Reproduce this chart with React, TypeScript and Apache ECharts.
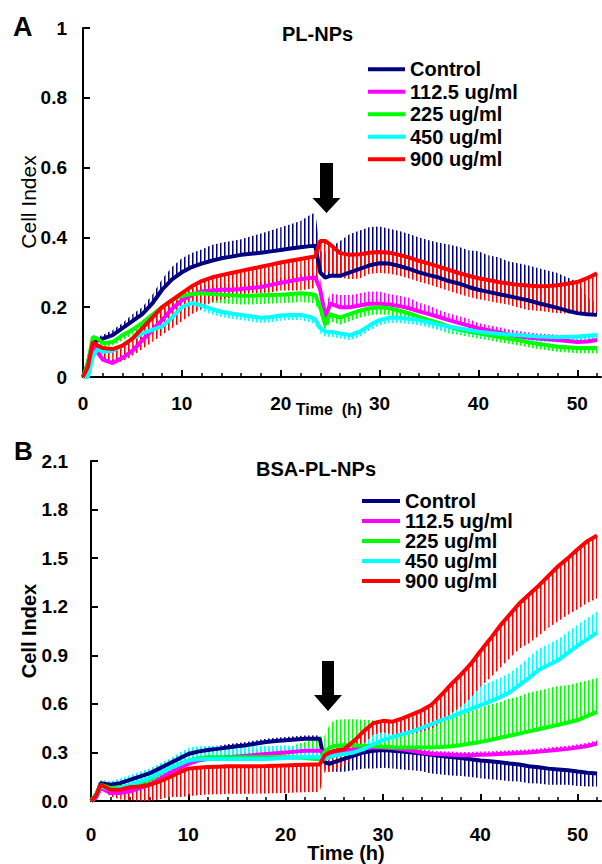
import React, { useEffect, useRef } from "react";
import * as echarts from "echarts";

// ---------- data ----------
const T = [0, 0.5, 1, 1.5, 2,
  3, 4, 5, 6, 7, 8, 9, 10, 11, 12,
  13, 14, 15, 16, 17, 18, 19, 20, 21, 22,
  23, 23.5, 24, 24.5, 25,
  26, 27, 28, 29, 30, 31, 32, 33, 34, 35,
  36, 37, 38, 39, 40, 41, 42, 43, 44, 45,
  46, 47, 48, 49, 50, 51, 52];

const NAMES = ["Control", "112.5 ug/ml", "225 ug/ml", "450 ug/ml", "900 ug/ml"];
const X_MAJOR = [0, 10, 20, 30, 40, 50];
const X_MINOR = [2, 4, 6, 8, 12, 14, 16, 18, 22, 24, 26, 28, 32, 34, 36, 38, 42, 44, 46, 48, 52];

// Panel A (PL-NPs)
const ctrlA = [0, 0.04, 0.1, 0.105, 0.11,
  0.12, 0.14, 0.16, 0.18, 0.21, 0.25, 0.28, 0.30, 0.315, 0.325,
  0.333, 0.34, 0.345, 0.35, 0.353, 0.356, 0.36, 0.364, 0.368, 0.372,
  0.375, 0.376, 0.3, 0.285, 0.29,
  0.29, 0.3, 0.31, 0.32, 0.326, 0.325, 0.318, 0.31, 0.3, 0.292,
  0.285, 0.275, 0.268, 0.258, 0.25, 0.244, 0.238, 0.232, 0.226, 0.22,
  0.212, 0.205, 0.198, 0.19, 0.183, 0.18, 0.178];
const ctrlAErr = [0, 0, 0.01, 0.01, 0.01,
  0.015, 0.015, 0.02, 0.02, 0.025, 0.03, 0.035, 0.04, 0.04, 0.04,
  0.045, 0.045, 0.045, 0.045, 0.05, 0.055, 0.06, 0.065, 0.07, 0.075,
  0.09, 0.095, 0.06, 0.07, 0.08,
  0.1, 0.11, 0.11, 0.11, 0.105, 0.1, 0.1, 0.1, 0.1, 0.1,
  0.1, 0.105, 0.105, 0.105, 0.11, 0.105, 0.105, 0.1, 0.1, 0.1,
  0.1, 0.1, 0.1, 0.095, 0.09, 0.05, 0.03];

const magA = [0, 0.03, 0.09, 0.07, 0.05,
  0.04, 0.055, 0.075, 0.105, 0.135, 0.163, 0.195, 0.22, 0.235, 0.245,
  0.248, 0.25, 0.25, 0.252, 0.255, 0.258, 0.264, 0.27, 0.275, 0.28,
  0.284, 0.285, 0.25, 0.17, 0.21,
  0.2, 0.2, 0.205, 0.21, 0.21, 0.208, 0.203, 0.197, 0.188, 0.18,
  0.172, 0.163, 0.155, 0.147, 0.14, 0.134, 0.128, 0.122, 0.117, 0.113,
  0.11, 0.108, 0.106, 0.103, 0.1, 0.102, 0.106];
const magAErr = [0, 0, 0.01, 0.01, 0.01,
  0.01, 0.01, 0.015, 0.015, 0.015, 0.015, 0.015, 0.015, 0.015, 0.015,
  0.015, 0.015, 0.015, 0.015, 0.015, 0.015, 0.015, 0.015, 0.015, 0.015,
  0.015, 0.015, 0.03, 0.03, 0.03,
  0.035, 0.035, 0.035, 0.035, 0.035, 0.03, 0.03, 0.03, 0.025, 0.025,
  0.02, 0.02, 0.02, 0.02, 0.015, 0.015, 0.015, 0.015, 0.015, 0.015,
  0.015, 0.015, 0.015, 0.015, 0.015, 0.015, 0.015];

const grnA = [0, 0.04, 0.115, 0.11, 0.097,
  0.1, 0.12, 0.135, 0.155, 0.178, 0.2, 0.22, 0.233, 0.238, 0.24,
  0.238, 0.236, 0.234, 0.233, 0.233, 0.234, 0.235, 0.236, 0.238, 0.24,
  0.238, 0.235, 0.2, 0.15, 0.18,
  0.17, 0.18, 0.19, 0.197, 0.2, 0.197, 0.19, 0.182, 0.172, 0.163,
  0.155, 0.145, 0.136, 0.13, 0.125, 0.12, 0.115, 0.11, 0.106, 0.1,
  0.095, 0.091, 0.087, 0.085, 0.083, 0.083, 0.083];
const grnAErr = [0, 0, -0.01, -0.01, -0.01,
  -0.01, -0.015, -0.015, -0.02, -0.02, -0.02, -0.02, -0.025, -0.025, -0.025,
  -0.025, -0.025, -0.025, -0.025, -0.025, -0.025, -0.025, -0.025, -0.025, -0.025,
  -0.025, -0.025, -0.02, -0.02, -0.02,
  -0.02, -0.02, -0.02, -0.02, -0.02, -0.02, -0.02, -0.02, -0.02, -0.02,
  -0.02, -0.02, -0.015, -0.015, -0.015, -0.015, -0.015, -0.015, -0.015, -0.015,
  -0.015, -0.015, -0.015, -0.015, -0.015, -0.015, -0.015];

const cyaA = [0, 0, 0.06, 0.08, 0.072,
  0.075, 0.09, 0.11, 0.125, 0.135, 0.145, 0.17, 0.2, 0.212, 0.205,
  0.195, 0.187, 0.182, 0.178, 0.174, 0.17, 0.172, 0.176, 0.178, 0.178,
  0.172, 0.165, 0.14, 0.13, 0.13,
  0.125, 0.12, 0.13, 0.148, 0.163, 0.17, 0.17, 0.167, 0.163, 0.157,
  0.15, 0.145, 0.14, 0.135, 0.13, 0.127, 0.124, 0.122, 0.12, 0.118,
  0.116, 0.115, 0.114, 0.115, 0.116, 0.118, 0.12];
const cyaAErr = [0, 0, -0.01, -0.01, -0.01,
  -0.015, -0.015, -0.015, -0.015, -0.015, -0.015, -0.015, -0.015, -0.015, -0.015,
  -0.015, -0.015, -0.015, -0.015, -0.015, -0.015, -0.015, -0.015, -0.015, -0.015,
  -0.015, -0.015, -0.015, -0.015, -0.015,
  -0.015, -0.015, -0.015, -0.015, -0.015, -0.015, -0.015, -0.015, -0.015, -0.015,
  -0.015, -0.015, -0.015, -0.015, -0.015, -0.015, -0.015, -0.015, -0.015, -0.015,
  -0.015, -0.015, -0.015, -0.015, -0.015, -0.015, -0.015];

const redA = [0, 0.03, 0.1, 0.09, 0.083,
  0.08, 0.09, 0.11, 0.14, 0.17, 0.2, 0.22, 0.24, 0.26, 0.275,
  0.285, 0.292, 0.298, 0.304, 0.31, 0.316, 0.322, 0.328, 0.333, 0.338,
  0.343, 0.345, 0.39, 0.39, 0.38,
  0.355, 0.35, 0.352, 0.356, 0.358, 0.356, 0.35, 0.342, 0.333, 0.325,
  0.316, 0.307, 0.298, 0.29, 0.283, 0.278, 0.272, 0.268, 0.264, 0.262,
  0.26, 0.261, 0.263, 0.267, 0.272, 0.283, 0.297];
const redAErr = [0, 0, -0.01, -0.02, -0.03,
  -0.04, -0.045, -0.05, -0.06, -0.07, -0.08, -0.08, -0.08, -0.08, -0.08,
  -0.07, -0.07, -0.07, -0.07, -0.07, -0.075, -0.08, -0.08, -0.085, -0.09,
  -0.09, -0.09, -0.1, -0.09, -0.08,
  -0.07, -0.07, -0.07, -0.06, -0.06, -0.06, -0.06, -0.06, -0.06, -0.06,
  -0.06, -0.06, -0.06, -0.06, -0.06, -0.06, -0.06, -0.06, -0.065, -0.07,
  -0.07, -0.075, -0.08, -0.085, -0.09, -0.1, -0.11];

// Panel B (BSA-PL-NPs)
const ctrlB = [0, 0.03, 0.11, 0.105, 0.1,
  0.11, 0.13, 0.15, 0.17, 0.2, 0.23, 0.26, 0.29, 0.305, 0.315,
  0.322, 0.33, 0.338, 0.345, 0.355, 0.365, 0.37, 0.375, 0.38, 0.385,
  0.385, 0.385, 0.24, 0.23, 0.24,
  0.26, 0.28, 0.3, 0.31, 0.315, 0.31, 0.305, 0.3, 0.293, 0.285,
  0.278, 0.272, 0.265, 0.258, 0.25, 0.245, 0.24, 0.232, 0.225, 0.215,
  0.208, 0.2, 0.195, 0.19, 0.182, 0.175, 0.17];
const ctrlBErr = [0, 0, 0.01, 0.01, 0.01,
  0.015, 0.015, 0.02, 0.02, 0.02, 0.02, 0.02, 0.02, 0.02, 0.02,
  0.02, 0.02, 0.02, 0.02, 0.02, 0.02, 0.02, 0.02, 0.02, 0.02,
  0.02, 0.02, -0.05, -0.05, -0.06,
  -0.08, -0.09, -0.1, -0.11, -0.11, -0.11, -0.11, -0.11, -0.11, -0.115,
  -0.115, -0.115, -0.11, -0.11, -0.11, -0.11, -0.11, -0.11, -0.105, -0.105,
  -0.1, -0.1, -0.095, -0.09, -0.09, -0.085, -0.08];

const magB = [0, 0.02, 0.08, 0.065, 0.05,
  0.05, 0.06, 0.08, 0.1, 0.135, 0.17, 0.2, 0.23, 0.25, 0.26,
  0.265, 0.27, 0.275, 0.28, 0.285, 0.29, 0.295, 0.3, 0.305, 0.31,
  0.31, 0.31, 0.3, 0.29, 0.3,
  0.31, 0.32, 0.325, 0.33, 0.33, 0.325, 0.32, 0.31, 0.3, 0.292,
  0.288, 0.285, 0.283, 0.283, 0.285, 0.287, 0.29, 0.293, 0.296, 0.3,
  0.305, 0.31, 0.316, 0.322, 0.33, 0.34, 0.355];
const magBErr = [0, 0, 0.01, 0.01, 0.01,
  0.02, 0.02, 0.02, 0.02, 0.02, 0.02, 0.02, 0.02, 0.02, 0.02,
  0.02, 0.02, 0.02, 0.02, 0.02, 0.02, 0.02, 0.02, 0.02, 0.02,
  0.02, 0.02, 0.02, 0.02, 0.02,
  0.02, 0.02, 0.02, 0.02, 0.02, 0.02, 0.02, 0.02, 0.02, 0.02,
  0.02, 0.02, 0.02, 0.02, 0.02, 0.02, 0.02, 0.02, 0.02, 0.02,
  0.02, 0.02, 0.02, 0.02, 0.02, 0.02, 0.02];

const grnB = [0, 0.04, 0.1, 0.09, 0.08,
  0.085, 0.09, 0.11, 0.13, 0.165, 0.2, 0.225, 0.25, 0.262, 0.27,
  0.27, 0.27, 0.27, 0.27, 0.27, 0.27, 0.27, 0.27, 0.268, 0.265,
  0.26, 0.26, 0.3, 0.33, 0.34,
  0.345, 0.345, 0.342, 0.338, 0.335, 0.332, 0.33, 0.33, 0.33, 0.33,
  0.333, 0.338, 0.345, 0.355, 0.365, 0.377, 0.39, 0.403, 0.416, 0.43,
  0.443, 0.457, 0.47, 0.485, 0.5, 0.525, 0.55];
const grnBErr = [0, 0, 0.03, 0.035, 0.04,
  0.05, 0.05, 0.05, 0.05, 0.05, 0.05, 0.05, 0.05, 0.05, 0.05,
  0.05, 0.05, 0.05, 0.05, 0.05, 0.05, 0.05, 0.05, 0.08, 0.1,
  0.12, 0.14, 0.1, 0.14, 0.16,
  0.16, 0.16, 0.16, 0.16, 0.16, 0.15, 0.15, 0.15, 0.15, 0.15,
  0.17, 0.18, 0.19, 0.2, 0.21, 0.22, 0.22, 0.23, 0.23, 0.24,
  0.24, 0.24, 0.24, 0.23, 0.23, 0.22, 0.21];

const cyaB = [0, 0.03, 0.09, 0.08, 0.07,
  0.08, 0.1, 0.12, 0.14, 0.17, 0.2, 0.225, 0.25, 0.258, 0.26,
  0.26, 0.26, 0.26, 0.26, 0.26, 0.26, 0.262, 0.265, 0.268, 0.27,
  0.27, 0.27, 0.26, 0.27, 0.28,
  0.29, 0.3, 0.32, 0.35, 0.376, 0.395, 0.412, 0.43, 0.452, 0.475,
  0.5, 0.52, 0.545, 0.567, 0.59, 0.615, 0.64, 0.67, 0.715, 0.76,
  0.81, 0.84, 0.87, 0.915, 0.96, 1.0, 1.04];
const cyaBErr = [0, 0, 0.04, 0.045, 0.05,
  0.06, 0.06, 0.06, 0.06, 0.06, 0.06, 0.07, 0.08, 0.08, 0.08,
  0.08, 0.08, 0.08, 0.08, 0.08, 0.08, 0.08, 0.08, 0.07, 0.06,
  0.06, 0.06, 0.05, 0.06, 0.06,
  0.06, 0.06, 0.06, 0.07, 0.08, 0.09, 0.09, 0.09, 0.09, 0.09,
  0.1, 0.12, 0.12, 0.12, 0.12, 0.12, 0.12, 0.12, 0.12, 0.13,
  0.13, 0.13, 0.13, 0.13, 0.13, 0.13, 0.13];

const redB = [0, 0.03, 0.1, 0.085, 0.07,
  0.07, 0.085, 0.09, 0.1, 0.12, 0.145, 0.175, 0.2, 0.205, 0.21,
  0.212, 0.214, 0.214, 0.215, 0.215, 0.216, 0.218, 0.22, 0.222, 0.224,
  0.225, 0.225, 0.28, 0.3, 0.31,
  0.32, 0.37, 0.43, 0.48, 0.495, 0.49, 0.51, 0.535, 0.56, 0.595,
  0.655, 0.72, 0.78, 0.845, 0.925, 1.0, 1.08, 1.15, 1.22, 1.275,
  1.33, 1.39, 1.45, 1.5, 1.555, 1.605, 1.64];
const redBErr = [0, 0, -0.02, -0.03, -0.04,
  -0.06, -0.08, -0.09, -0.1, -0.11, -0.12, -0.15, -0.17, -0.17, -0.17,
  -0.17, -0.17, -0.17, -0.17, -0.17, -0.17, -0.17, -0.17, -0.17, -0.17,
  -0.17, -0.17, -0.1, -0.12, -0.12,
  -0.1, -0.1, -0.08, -0.07, -0.07, -0.08, -0.1, -0.12, -0.13, -0.15,
  -0.17, -0.18, -0.2, -0.21, -0.22, -0.24, -0.26, -0.27, -0.28, -0.3,
  -0.31, -0.32, -0.34, -0.35, -0.37, -0.38, -0.39];

// ---------- styling ----------
const COLORS = ["#000080", "#FF00FF", "#00FF00", "#00FFFF", "#FF0000"];
const FONT = '"Liberation Sans", Arial, Helvetica, sans-serif';

const PANEL_A = [[ctrlA, ctrlAErr], [magA, magAErr], [grnA, grnAErr], [cyaA, cyaAErr], [redA, redAErr]];
const PANEL_B = [[ctrlB, ctrlBErr], [magB, magBErr], [grnB, grnBErr], [cyaB, cyaBErr], [redB, redBErr]];

// vertical hatch texture used to draw the dense error-bar bands
function stripePattern(color: string) {
  const c = document.createElement("canvas");
  c.width = 4;
  c.height = 1;
  const ctx = c.getContext("2d");
  if (ctx) {
    ctx.fillStyle = color;
    ctx.fillRect(0, 0, 1, 1);
    ctx.globalAlpha = 0.55;
    ctx.fillRect(1, 0, 1, 1);
  }
  return { image: c, repeat: "repeat", imageWidth: 4, imageHeight: 1 };
}

function buildSeries(panel: number[][][], xi: number, yi: number) {
  const out: any[] = [];
  panel.forEach(([vals, errs], k) => {
    const color = COLORS[k];
    const pattern = stripePattern(color);
    out.push({
      type: "custom",
      name: NAMES[k] + " err" + xi,
      xAxisIndex: xi,
      yAxisIndex: yi,
      dimensions: ["t", "v", "e"],
      encode: { x: 0, y: 1 },
      data: T.map((t, i) => [t, vals[i], errs[i]]),
      silent: true,
      clip: true,
      renderItem: (params: any, api: any) => {
        const i = params.dataIndex;
        if (i >= T.length - 1) return null;
        const e0 = errs[i];
        const e1 = errs[i + 1];
        if (!e0 && !e1) return null;
        const a0 = api.coord([T[i], vals[i]]);
        const a1 = api.coord([T[i + 1], vals[i + 1]]);
        const b1 = api.coord([T[i + 1], vals[i + 1] + e1]);
        const b0 = api.coord([T[i], vals[i] + e0]);
        return {
          type: "polygon",
          shape: { points: [a0, a1, b1, b0] },
          style: { fill: pattern as any, stroke: null },
        };
      },
    });
    out.push({
      type: "line",
      name: NAMES[k],
      xAxisIndex: xi,
      yAxisIndex: yi,
      data: T.map((t, i) => [t, vals[i]]),
      showSymbol: false,
      symbol: "none",
      color,
      itemStyle: { color },
      lineStyle: { color, width: 4 },
      silent: true,
    });
  });
  return out;
}

function xAxes(grid: number, labelMargin: number) {
  return [
    {
      type: "value",
      gridIndex: grid,
      min: 0,
      max: 52.4,
      position: "bottom",
      axisLine: { show: true, onZero: false, lineStyle: { color: "#000", width: 2 } },
      axisTick: { show: true, inside: true, length: 7, customValues: X_MAJOR, lineStyle: { color: "#000", width: 2 } },
      axisLabel: {
        show: true,
        customValues: X_MAJOR,
        margin: labelMargin,
        color: "#000",
        fontSize: 19,
        fontWeight: "bold",
        fontFamily: FONT,
      },
      splitLine: { show: false },
    },
    {
      type: "value",
      gridIndex: grid,
      min: 0,
      max: 52.4,
      position: "bottom",
      axisLine: { show: false },
      axisTick: { show: true, inside: true, length: 4, customValues: X_MINOR, lineStyle: { color: "#000", width: 1.5 } },
      axisLabel: { show: false },
      splitLine: { show: false },
    },
  ];
}

function legend(top: number, left: number, lh: number, iw: number) {
  return {
    orient: "vertical",
    left,
    top,
    padding: 0,
    itemGap: 0,
    itemWidth: iw,
    itemHeight: 4,
    icon: "rect",
    selectedMode: false,
    data: NAMES,
    textStyle: { color: "#000", fontSize: 20, fontWeight: "bold", fontFamily: FONT, lineHeight: lh },
  };
}

function arrow(x: number, top: number, headY: number, tipY: number, sw: number, hw: number) {
  return {
    type: "polygon",
    shape: {
      points: [
        [x - sw, top], [x + sw, top], [x + sw, headY], [x + hw, headY],
        [x, tipY], [x - hw, headY], [x - sw, headY],
      ],
    },
    style: { fill: "#000" },
  };
}

function txt(text: string, x: number, y: number, size: number, weight: string, align = "left", rotation = 0) {
  return {
    type: "text",
    x,
    y,
    rotation,
    style: {
      text,
      fill: "#000",
      font: `${weight} ${size}px ${FONT}`,
      align,
      verticalAlign: "middle",
    },
  };
}

export default function App() {
  const ref = useRef<HTMLDivElement>(null);
  useEffect(() => {
    document.body.style.margin = "0";
    if (!ref.current) return;
    const chart = echarts.init(ref.current, null, { renderer: "svg" });
    const option: any = {
      animation: false,
      backgroundColor: "#fff",
      grid: [
        { left: 83, top: 28, width: 518, height: 349 },
        { left: 91, top: 461, width: 510, height: 340 },
      ],
      xAxis: [...xAxes(0, 17), ...xAxes(1, 24)],
      yAxis: [
        {
          type: "value",
          gridIndex: 0,
          min: 0,
          max: 1,
          interval: 0.2,
          axisLine: { show: true, lineStyle: { color: "#000", width: 2 } },
          axisTick: { show: true, inside: true, length: 7, lineStyle: { color: "#000", width: 2 } },
          axisLabel: { margin: 16, color: "#000", fontSize: 19, fontWeight: "bold", fontFamily: FONT },
          splitLine: { show: false },
        },
        {
          type: "value",
          gridIndex: 1,
          min: 0,
          max: 2.1,
          interval: 0.3,
          axisLine: { show: true, lineStyle: { color: "#000", width: 2 } },
          axisTick: { show: true, inside: true, length: 7, lineStyle: { color: "#000", width: 2 } },
          axisLabel: {
            margin: 23,
            color: "#000",
            fontSize: 19,
            fontWeight: "bold",
            fontFamily: FONT,
            formatter: (v: number) => v.toFixed(1),
          },
          splitLine: { show: false },
        },
      ],
      legend: [legend(58, 368, 22.5, 37), legend(491, 362, 20, 38)],
      series: [...buildSeries(PANEL_A, 0, 0), ...buildSeries(PANEL_B, 2, 1)],
      graphic: [
        txt("A", 13, 27, 27, "bold"),
        txt("PL-NPs", 282, 34, 20, "bold"),
        txt("Cell Index", 28, 202, 21, "normal", "center", Math.PI / 2),
        txt("Time  (h)", 329, 409, 16, "bold", "center"),
        arrow(326.5, 163, 198, 213, 6.5, 14),
        txt("B", 14, 451, 26, "bold"),
        txt("BSA-PL-NPs", 256, 469, 20, "bold"),
        txt("Cell Index", 29, 631, 20, "bold", "center", Math.PI / 2),
        txt("Time (h)", 346, 853, 20, "bold", "center"),
        arrow(328, 661, 695, 711, 6, 14),
      ],
    };
    chart.setOption(option);
    return () => chart.dispose();
  }, []);
  return <div ref={ref} style={{ width: 602, height: 864 }} />;
}
